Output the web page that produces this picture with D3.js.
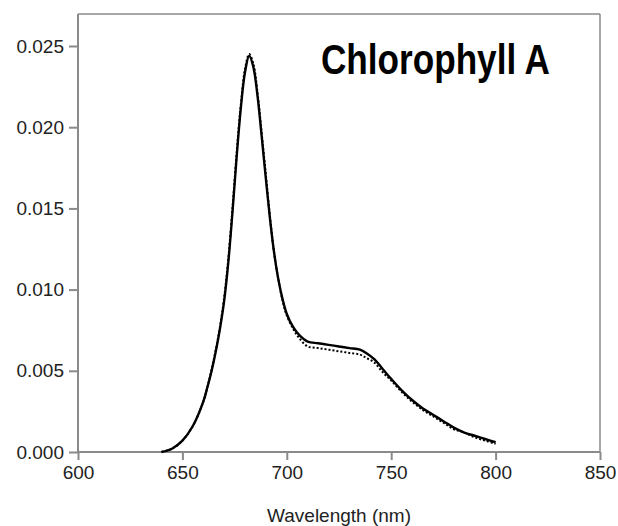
<!DOCTYPE html>
<html>
<head>
<meta charset="utf-8">
<script src="https://cdn.jsdelivr.net/npm/d3@7/dist/d3.min.js"></script>
<style>
  html, body { margin: 0; padding: 0; background: #fff; }
  svg { display: block; }
</style>
</head>
<body>
<svg id="chart" width="618" height="526"></svg>
<script>
// ---- data ----
const wavelengths = [640,645,650,655,660,662,664,666,668,670,672,674,676,678,680,682,684,686,688,690,692,694,696,698,700,703,706,710,715,720,725,730,735,738,742,746,750,755,760,765,770,775,780,785,790,795,800];
const solidValues = [0.0000,0.0002,0.0007,0.0016,0.0031,0.0040,0.0050,0.0062,0.0076,0.0093,0.0117,0.0148,0.0182,0.0212,0.0234,0.0244,0.0237,0.0219,0.0194,0.0168,0.0143,0.0122,0.0106,0.0094,0.0085,0.0077,0.0072,0.0068,0.0067,0.0066,0.0065,0.0064,0.0063,0.0061,0.0057,0.0051,0.0045,0.0038,0.0032,0.0027,0.0023,0.0019,0.0015,0.0012,0.0010,0.0008,0.0006];
const dottedValues = [0.0000,0.0002,0.0007,0.0016,0.0031,0.0040,0.0051,0.0063,0.0077,0.0095,0.0119,0.0150,0.0184,0.0214,0.0236,0.0245,0.0239,0.0221,0.0196,0.0170,0.0144,0.0122,0.0106,0.0093,0.0084,0.0076,0.0070,0.0065,0.0064,0.0063,0.0062,0.0061,0.0060,0.0058,0.0055,0.0049,0.0044,0.0037,0.0031,0.0026,0.0022,0.0018,0.0014,0.0012,0.0009,0.0007,0.0005];
const xTicks = [600,650,700,750,800,850];
const yTicks = [0.000,0.005,0.010,0.015,0.020,0.025];
const titleText = "Chlorophyll A";
const xLabel = "Wavelength (nm)";

// ---- layout ----
const plotLeft = 78, plotRight = 600, plotTop = 14, plotBottom = 452;
const svg = d3.select("#chart");

const x = d3.scaleLinear().domain([600, 850]).range([plotLeft, plotRight]);
const y = d3.scaleLinear().domain([0, 0.025]).range([plotBottom, 46]);

const axisColor = "#8a8a8a";
const textColor = "#222";
const font = "Liberation Sans, Arial, Helvetica, sans-serif";

// frame: top & right borders
svg.append("line").attr("x1", plotLeft).attr("x2", plotRight).attr("y1", plotTop).attr("y2", plotTop)
  .attr("stroke", axisColor).attr("stroke-width", 1.5);
svg.append("line").attr("x1", plotRight).attr("x2", plotRight).attr("y1", plotTop).attr("y2", plotBottom)
  .attr("stroke", axisColor).attr("stroke-width", 1.5);

// y axis
const yAxis = svg.append("g").attr("transform", `translate(${plotLeft},0)`)
  .call(d3.axisLeft(y).tickValues(yTicks).tickFormat(d3.format(".3f")).tickSize(9).tickPadding(5).tickSizeOuter(0));
yAxis.select(".domain").remove();
svg.append("line").attr("x1", plotLeft).attr("x2", plotLeft).attr("y1", plotTop).attr("y2", plotBottom)
  .attr("stroke", axisColor).attr("stroke-width", 2);

// x axis
const xAxis = svg.append("g").attr("transform", `translate(0,${plotBottom})`)
  .call(d3.axisBottom(x).tickValues(xTicks).tickFormat(d3.format("d")).tickSize(8).tickPadding(6).tickSizeOuter(0));
xAxis.select(".domain").remove();
svg.append("line").attr("x1", plotLeft).attr("x2", plotRight).attr("y1", plotBottom).attr("y2", plotBottom)
  .attr("stroke", axisColor).attr("stroke-width", 2);

[yAxis, xAxis].forEach(g => {
  g.selectAll(".tick line").attr("stroke", axisColor).attr("stroke-width", 2);
  g.selectAll(".tick text").attr("fill", textColor).attr("font-family", font).attr("font-size", 19);
});

// x label
svg.append("text").attr("x", (plotLeft + plotRight) / 2).attr("y", 522)
  .attr("text-anchor", "middle").attr("font-family", font).attr("font-size", 19)
  .attr("fill", textColor).text(xLabel);

// title
svg.append("text").attr("x", 321).attr("y", 74)
  .attr("font-family", "Liberation Sans Narrow, Arial Narrow, Liberation Sans, sans-serif")
  .attr("font-weight", "bold").attr("font-size", 43)
  .attr("textLength", 229).attr("lengthAdjust", "spacingAndGlyphs")
  .attr("fill", "#000").text(titleText);

// curves
const line = d3.line().x(d => x(d[0])).y(d => y(d[1])).curve(d3.curveCatmullRom.alpha(0.5));
const dotted = wavelengths.map((w, i) => [w, dottedValues[i]]);
const solid = wavelengths.map((w, i) => [w, solidValues[i]]);

svg.append("path").datum(dotted).attr("d", line)
  .attr("fill", "none").attr("stroke", "#000").attr("stroke-width", 2)
  .attr("stroke-dasharray", "2,2");
svg.append("path").datum(solid).attr("d", line)
  .attr("fill", "none").attr("stroke", "#000").attr("stroke-width", 2.4);
</script>
</body>
</html>
